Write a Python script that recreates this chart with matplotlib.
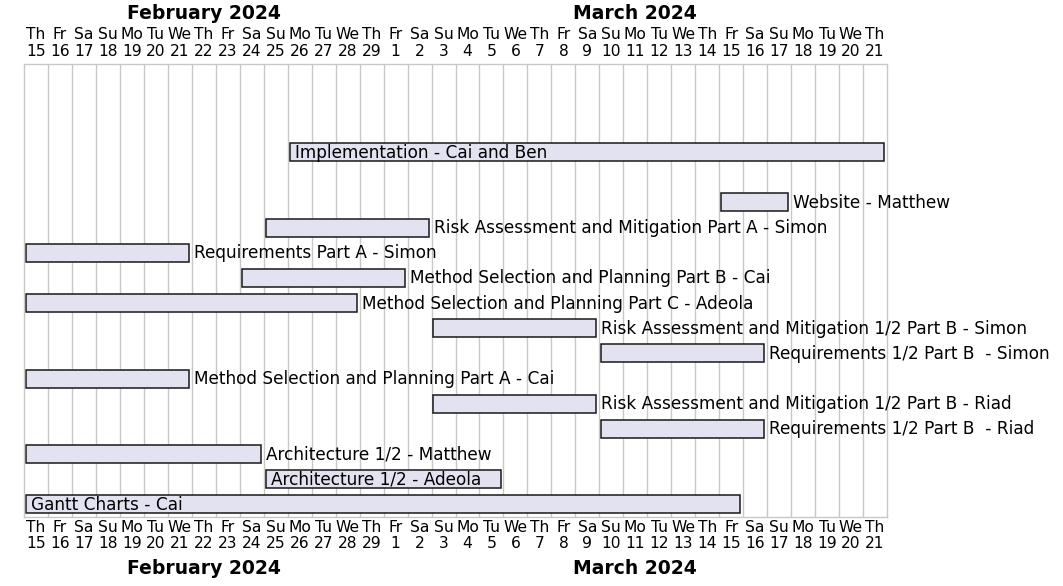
import numpy as np
import matplotlib
matplotlib.use("Agg")
import matplotlib.pyplot as plt
import matplotlib.transforms as mtransforms

# ---------------- data ----------------
chart_start = "2024-02-15"
chart_end = "2024-03-21"   # inclusive

task_names = [
    "Implementation - Cai and Ben",
    "Website - Matthew",
    "Risk Assessment and Mitigation Part A - Simon",
    "Requirements Part A - Simon",
    "Method Selection and Planning Part B - Cai",
    "Method Selection and Planning Part C - Adeola",
    "Risk Assessment and Mitigation 1/2 Part B - Simon",
    "Requirements 1/2 Part B  - Simon",
    "Method Selection and Planning Part A - Cai",
    "Risk Assessment and Mitigation 1/2 Part B - Riad",
    "Requirements 1/2 Part B  - Riad",
    "Architecture 1/2 - Matthew",
    "Architecture 1/2 - Adeola",
    "Gantt Charts - Cai",
]
task_starts = [
    "2024-02-26", "2024-03-15", "2024-02-25", "2024-02-15", "2024-02-24",
    "2024-02-15", "2024-03-03", "2024-03-10", "2024-02-15", "2024-03-03",
    "2024-03-10", "2024-02-15", "2024-02-25", "2024-02-15",
]
task_ends = [  # inclusive
    "2024-03-21", "2024-03-17", "2024-03-02", "2024-02-21", "2024-03-01",
    "2024-02-28", "2024-03-09", "2024-03-16", "2024-02-21", "2024-03-09",
    "2024-03-16", "2024-02-24", "2024-03-05", "2024-03-15",
]
task_rows = [3, 5, 6, 7, 8, 9, 10, 11, 12, 13, 14, 15, 16, 17]
label_inside = [True, False, False, False, False, False, False, False,
                False, False, False, False, True, True]
n_rows = 18

month_names = ["February 2024", "March 2024"]
month_starts = ["2024-02-15", "2024-03-01"]
month_ends = ["2024-02-29", "2024-03-21"]

day_abbr = ["Mo", "Tu", "We", "Th", "Fr", "Sa", "Su"]

# ---------------- helpers ----------------
d0 = np.datetime64(chart_start)
def idx(s):
    return int((np.datetime64(s) - d0).astype(int))

n_days = idx(chart_end) + 1
days = d0 + np.arange(n_days)

# ---------------- figure ----------------
W, H = 1063, 586
fig = plt.figure(figsize=(W / 100, H / 100), dpi=100)
fig.patch.set_facecolor("white")
L, R, T, B = 24, 887, 64, 517
ax = fig.add_axes([L / W, 1 - B / H, (R - L) / W, (B - T) / H])
ax.set_xlim(0, n_days)
ax.set_ylim(n_rows - 0.5, -0.5)
ax.set_xticks([])
ax.set_yticks([])
for sp in ax.spines.values():
    sp.set_color("#c8c8c8")
    sp.set_linewidth(1.0)

# grid lines
for i in range(1, n_days):
    ax.axvline(i, color="#c8c8c8", lw=1.0, zorder=0)

# bars
bar_fc = "#e2e2f0"
bar_ec = "#181818"
inset_l, inset_r = 0.08, 0.12
bar_h = 0.72
txt_fs = 12.2
for name, s, e, r, inside in zip(task_names, task_starts, task_ends, task_rows, label_inside):
    a = idx(s)
    b = idx(e) + 1
    ax.barh(r, (b - a) - inset_l - inset_r, left=a + inset_l, height=bar_h,
            color=bar_fc, edgecolor=bar_ec, linewidth=1.1, zorder=2)
    tx = a + inset_l if inside else b - inset_r
    off = mtransforms.offset_copy(ax.transData, fig=fig, x=5, y=0, units="dots")
    ax.text(tx, r + 0.02, name, transform=off, ha="left", va="center",
            fontsize=txt_fs, color="#000000", zorder=3, clip_on=False)

# header / footer
def yfrac(ypix):
    return (B - ypix) / (B - T)

trans = mtransforms.blended_transform_factory(ax.transData, ax.transAxes)
day_fs = 11.2
for i, d in enumerate(days):
    wd = int(((d - np.datetime64("1970-01-05")).astype(int)) % 7)
    dn = str(d.astype(object).day)
    for yb in (39, 532):
        ax.text(i + 0.5, yfrac(yb), day_abbr[wd], transform=trans, ha="center",
                va="baseline", fontsize=day_fs, color="#000000", clip_on=False)
    for yb in (56, 548):
        ax.text(i + 0.5, yfrac(yb), dn, transform=trans, ha="center",
                va="baseline", fontsize=day_fs, color="#000000", clip_on=False)

for m, ms, me in zip(month_names, month_starts, month_ends):
    cx = (idx(ms) + idx(me) + 1) / 2
    for yb in (19, 574):
        ax.text(cx, yfrac(yb), m, transform=trans, ha="center", va="baseline",
                fontsize=13.5, fontweight="bold", color="#000000", clip_on=False)

fig.savefig("out.png", dpi=100, facecolor="white")
